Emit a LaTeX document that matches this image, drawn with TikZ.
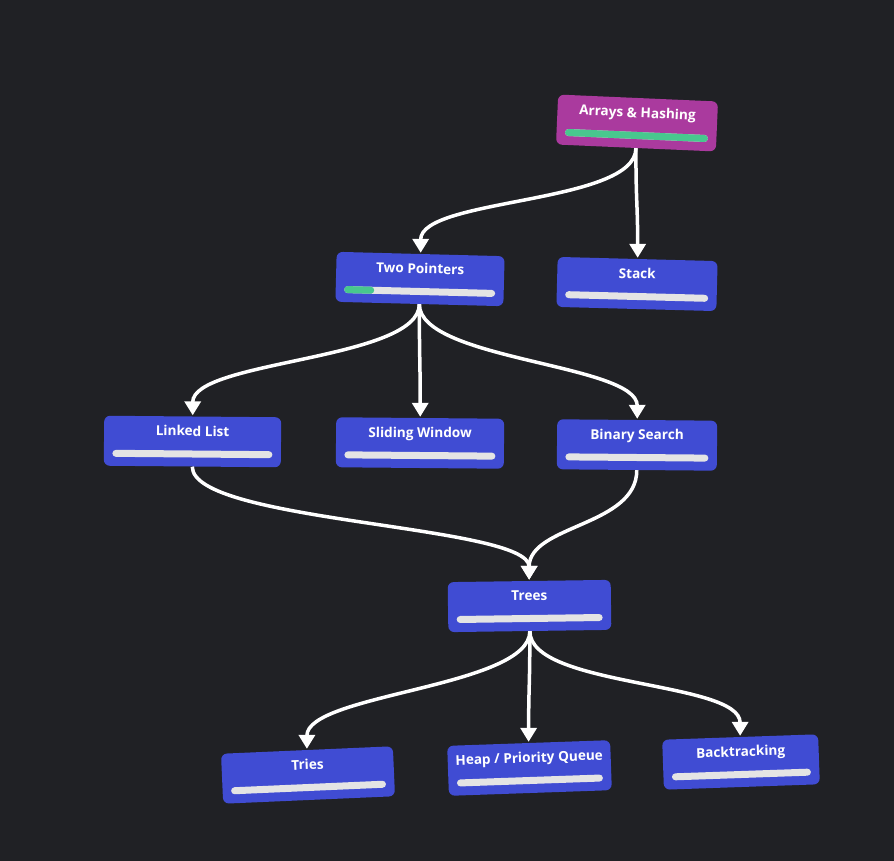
\documentclass[tikz,border=0pt]{standalone}
\usepackage{fontspec}
\setmainfont{Open Sans}
\usetikzlibrary{arrows.meta}
\definecolor{bg}{RGB}{32,33,37}
\definecolor{nodeblue}{RGB}{64,76,211}
\definecolor{nodemag}{RGB}{170,58,158}
\definecolor{progreen}{RGB}{72,199,142}
\definecolor{bargray}{RGB}{228,228,228}
\tikzset{
 box/.style={rectangle, rounded corners=6pt, minimum height=50pt, inner sep=0pt, draw=none},
 lbl/.style={font=\bfseries\fontsize{13.6}{16}\selectfont, text=white, anchor=base, inner sep=0pt},
 bar/.style={line width=7pt, line cap=round, draw=bargray},
 prog/.style={line width=7pt, line cap=round, draw=progreen},
 edge/.style={draw=white, line width=3.5pt, -{Triangle[width=16pt,length=14pt]}, shorten >=1pt},
}
% name, x, y, angle, width, colour, text, progress
\newcommand\skill[8]{%
 \begin{scope}[shift={(#2,#3)},rotate=#4,transform shape]
 \node[box,fill=#6,minimum width=#5pt] (#1) at (0,0) {};
 \node[lbl] (#1-t) at (0,-5.5) {#7};
 \draw[bar] ({-#5/2+12},12.5) -- ({#5/2-12},12.5);
 \ifdim#8pt>0pt
 \draw[prog] ({-#5/2+12},12.5) -- ({-#5/2+12+#8*(#5-24)},12.5);
 \fi
 \end{scope}}
\newcommand\link[2]{\draw[edge] (#1.south) .. controls +(0,56) and +(0,-56) .. (#2.north);}
\begin{document}
\begin{tikzpicture}[x=1pt,y=-1pt]
\fill[bg] (0,0) rectangle (894,861);
\useasboundingbox (0,0) rectangle (894,861);
\skill{arr}{637}{123}{-2.5}{160}{nodemag}{Arrays \& Hashing}{1}
\skill{two}{420}{279}{-1.5}{168}{nodeblue}{Two Pointers}{0.16}
\skill{stk}{637}{284}{-1.5}{160}{nodeblue}{Stack}{0}
\skill{ll}{192.5}{441.5}{-0.5}{177}{nodeblue}{Linked List}{0}
\skill{sw}{420}{443}{-0.5}{168}{nodeblue}{Sliding Window}{0}
\skill{bs}{637}{445}{-0.5}{160}{nodeblue}{Binary Search}{0}
\skill{tr}{529.5}{606}{0.8}{163}{nodeblue}{Trees}{0}
\skill{tri}{308}{775}{2.5}{172}{nodeblue}{Tries}{0}
\skill{hp}{529.5}{768}{2}{163}{nodeblue}{Heap / Priority Queue}{0}
\skill{bt}{741}{762}{2}{156}{nodeblue}{Backtracking}{0}
\link{arr}{two}
\link{arr}{stk}
\link{two}{ll}
\link{two}{sw}
\link{two}{bs}
\link{ll}{tr}
\link{bs}{tr}
\link{tr}{tri}
\link{tr}{hp}
\link{tr}{bt}
\end{tikzpicture}
\end{document}
